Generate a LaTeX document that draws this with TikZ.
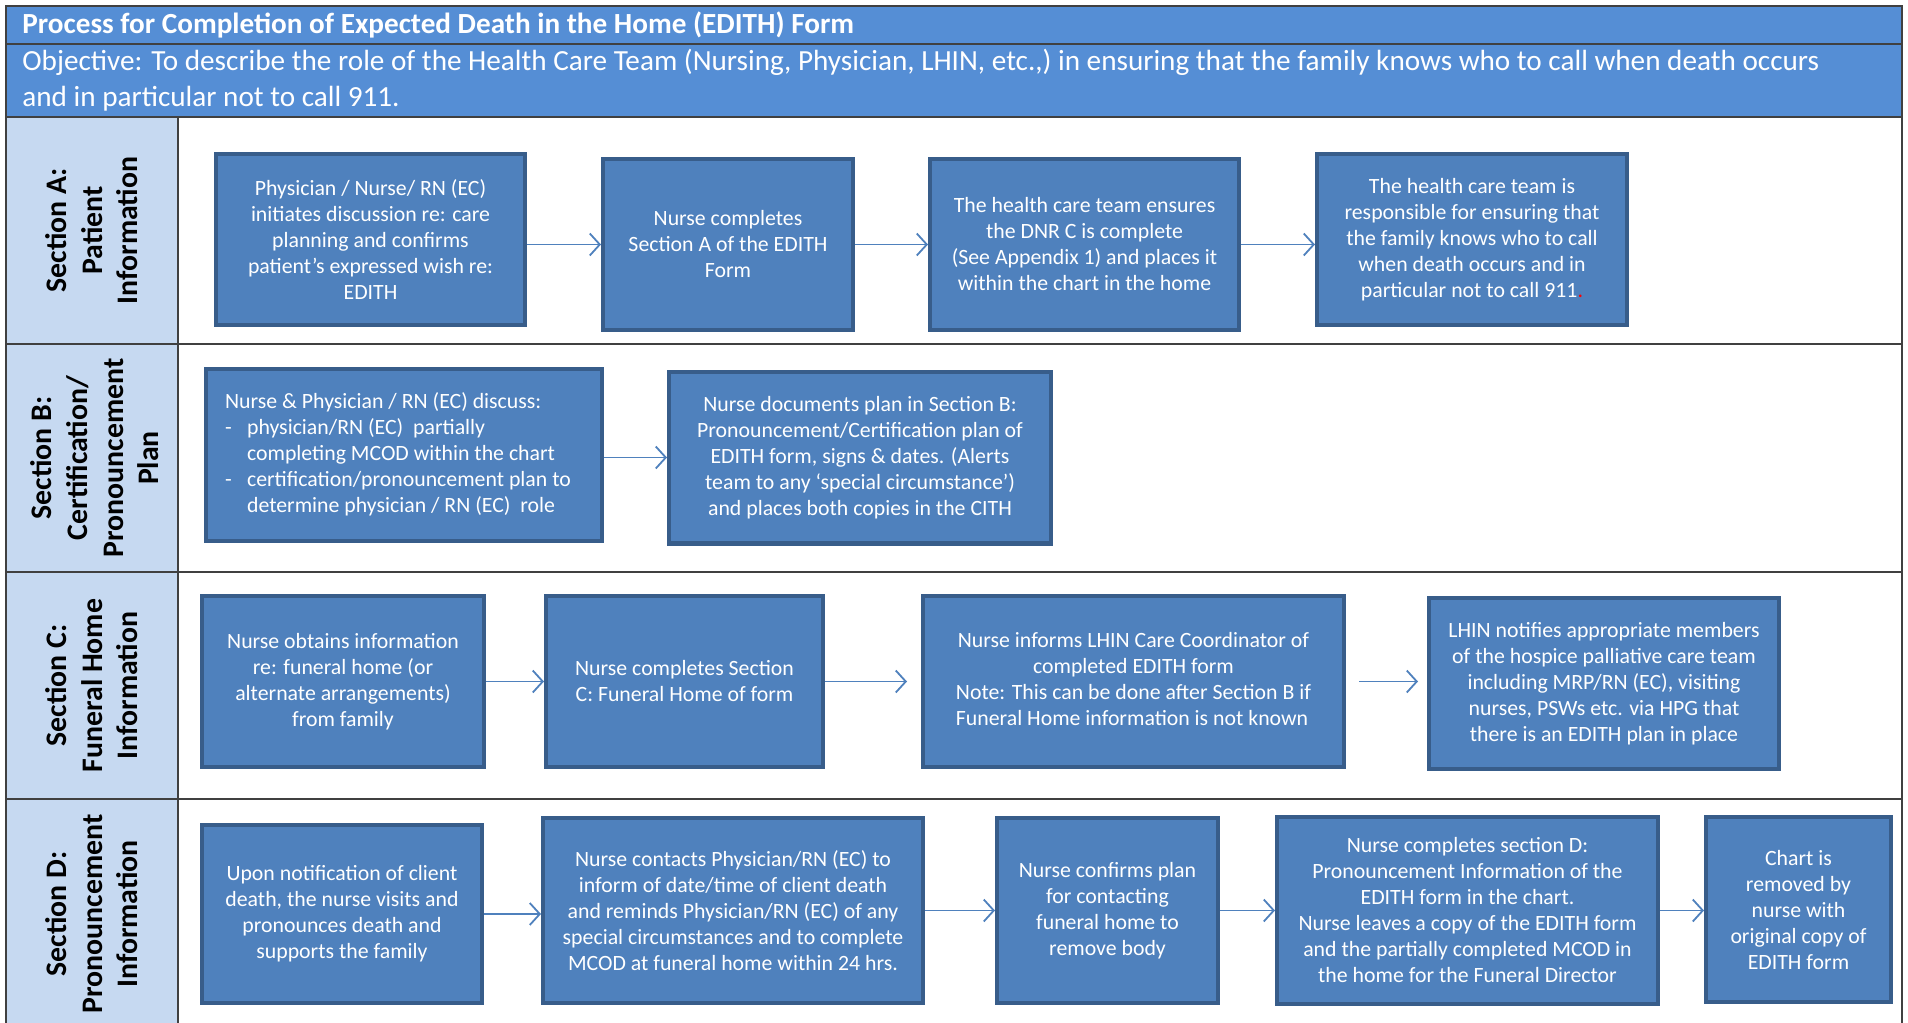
\documentclass[tikz,border=0pt]{standalone}
\usepackage{fontspec}
\setmainfont{Carlito}
\usetikzlibrary{positioning,arrows.meta}
\definecolor{hdrblue}{HTML}{558ED5}
\definecolor{boxblue}{HTML}{4F81BD}
\definecolor{boxedge}{HTML}{385D8A}
\definecolor{lanefill}{HTML}{C6D9F1}
\definecolor{gridline}{HTML}{404040}
\tikzset{
  every node/.style={inner sep=0pt},
  stepbox/.style={rectangle, fill=boxblue, draw=boxedge, line width=2.2pt, text=white,
    align=center, inner sep=3pt, minimum height=85.3pt,
    font=\fontsize{10.9}{13}\selectfont},
  lane/.style={rotate=90, align=center, text=black,
    font=\bfseries\fontsize{14.9}{17.8}\selectfont},
  grid/.style={draw=gridline, line width=1pt},
  flow/.style={draw=boxblue, line width=0.9pt, -{Straight Barb[length=5pt, width=11pt]}}
}

\begin{document}
\begin{tikzpicture}[x=0.5pt, y=-0.5pt]
  \useasboundingbox (0,0) rectangle (1908,1023);
  \fill[white] (0,0) rectangle (1908,1023);

  % Table
  \filldraw[grid, fill=hdrblue] (6,6) rectangle (1902,44);
  \filldraw[grid, fill=hdrblue] (6,44) rectangle (1902,117);
  \foreach \ya/\yb in {117/344, 344/572, 572/799} {
    \filldraw[grid, fill=lanefill] (6,\ya) rectangle (178,\yb);
    \draw[grid] (178,\ya) rectangle (1902,\yb);
  }
  \fill[lanefill] (6,799) rectangle (178,1030);
  \draw[grid] (6,1030) -- (6,799) -- (1902,799) -- (1902,1030);
  \draw[grid] (178,799) -- (178,1030);

  \node[anchor=west, text=white, font=\bfseries\fontsize{14.6}{17}\selectfont] (title) at (22,25)
    {Process for Completion of Expected Death in the Home (EDITH) Form};
  \node[anchor=north west, text=white, align=left, font=\fontsize{14.6}{18}\selectfont] (objective) at (22,49)
    {Objective: To describe the role of the Health Care Team (Nursing, Physician, LHIN, etc.,) in ensuring that the family knows who to call when death occurs\\
     and in particular not to call 911.};

  % Lanes
  \node[lane] (laneA) at (92,230.5) {Section A:\\Patient\\Information};
  \node[lane] (laneB) at (95,458) {Section B:\\Certification/\\Pronouncement\\Plan};
  \node[lane] (laneC) at (92,685.5) {Section C:\\Funeral Home\\Information};
  \node[lane] (laneD) at (92,914) {Section D:\\Pronouncement\\Information};

  % Section A
  \node[stepbox, minimum width=154.3pt] (A1) at (370.5,239.5)
    {Physician / Nurse/ RN (EC)\\initiates discussion re: care\\planning and confirms\\patient’s expressed wish re:\\EDITH};
  \node[stepbox, minimum width=124.8pt, right=37pt of A1, yshift=-2.5pt] (A2)
    {Nurse completes\\Section A of the EDITH\\Form};
  \node[stepbox, minimum width=154.3pt, right=36.5pt of A2] (A3)
    {The health care team ensures\\the DNR C is complete\\(See Appendix 1) and places it\\within the chart in the home};
  \node[stepbox, minimum width=154.8pt, right=37pt of A3, yshift=2.5pt] (A4)
    {The health care team is\\responsible for ensuring that\\the family knows who to call\\when death occurs and in\\particular not to call 911{\color{red}.}};

  % Section B
  \node[stepbox, minimum width=197.8pt, minimum height=85.8pt] (B1) at (404,455)
    {\begin{tabular}{@{}p{11pt}@{}l@{}}
      \multicolumn{2}{@{}l@{}}{Nurse \& Physician / RN (EC) discuss:}\\
      - & physician/RN (EC)\ \ partially\\
        & completing MCOD within the chart\\
      - & certification/pronouncement plan to\\
        & determine physician / RN (EC)\ \ role
     \end{tabular}\hspace*{6pt}};
  \node[stepbox, minimum width=190.8pt, minimum height=85.8pt, right=31.5pt of B1, yshift=-1.25pt] (B2)
    {Nurse documents plan in Section B:\\Pronouncement/Certification plan of\\EDITH form, signs \& dates. (Alerts\\team to any ‘special circumstance’)\\and places both copies in the CITH};

  % Section C
  \node[stepbox, minimum width=140.8pt] (C1) at (343,681.5)
    {Nurse obtains information\\re: funeral home (or\\alternate arrangements)\\from family};
  \node[stepbox, minimum width=138.3pt, right=29pt of C1] (C2)
    {Nurse completes Section\\C: Funeral Home of form};
  \node[stepbox, minimum width=210.3pt, right=48pt of C2] (C3)
    {\begin{tabular}{@{}l@{}}
      \multicolumn{1}{@{}c@{}}{Nurse informs LHIN Care Coordinator of}\\
      \multicolumn{1}{@{}c@{}}{completed EDITH form}\\
      Note: This can be done after Section B if\\
      Funeral Home information is not known
     \end{tabular}};
  \node[stepbox, minimum width=174.8pt, right=40.5pt of C3, yshift=-1pt] (C4)
    {LHIN notifies appropriate members\\of the hospice palliative care team\\including MRP/RN (EC), visiting\\nurses, PSWs etc. via HPG that\\there is an EDITH plan in place};

  % Section D
  \node[stepbox, minimum width=139.8pt, minimum height=88.8pt] (D1) at (342,914)
    {Upon notification of client\\death, the nurse visits and\\pronounces death and\\supports the family};
  \node[stepbox, minimum width=189.8pt, minimum height=92.3pt, right=28.5pt of D1, yshift=1.75pt] (D2)
    {Nurse contacts Physician/RN (EC) to\\inform of date/time of client death\\and reminds Physician/RN (EC) of any\\special circumstances and to complete\\MCOD at funeral home within 24 hrs.};
  \node[stepbox, minimum width=110.3pt, minimum height=92.3pt, right=35pt of D2] (D3)
    {Nurse confirms plan\\for contacting\\funeral home to\\remove body};
  \node[stepbox, minimum width=190.3pt, minimum height=93.3pt, right=27.5pt of D3] (D4)
    {Nurse completes section D:\\Pronouncement Information of the\\EDITH form in the chart.\\Nurse leaves a copy of the EDITH form\\and the partially completed MCOD in\\the home for the Funeral Director};
  \node[stepbox, minimum width=92.3pt, minimum height=92.3pt, right=22pt of D4, yshift=0.5pt] (D5)
    {Chart is\\removed by\\nurse with\\original copy of\\EDITH form};

  % Arrows
  \draw[flow] (A1.east |- A2.west) -- (A2.west);
  \draw[flow] (A2.east) -- (A3.west);
  \draw[flow] (A3.east) -- (A3.east -| A4.west);
  \draw[flow] (B1.east |- B2.west) -- (B2.west);
  \draw[flow] (C1.east) -- (C2.west);
  \draw[flow, shorten >=7pt] (C2.east) -- (C3.west);
  \draw[flow, shorten <=6.5pt, shorten >=4.5pt] (C3.east) -- (C3.east -| C4.west);
  \draw[flow] (D1.east) -- (D1.east -| D2.west);
  \draw[flow] (D2.east) -- (D3.west);
  \draw[flow] (D3.east) -- (D4.west);
  \draw[flow] (D4.east) -- (D4.east -| D5.west);
\end{tikzpicture}
\end{document}
